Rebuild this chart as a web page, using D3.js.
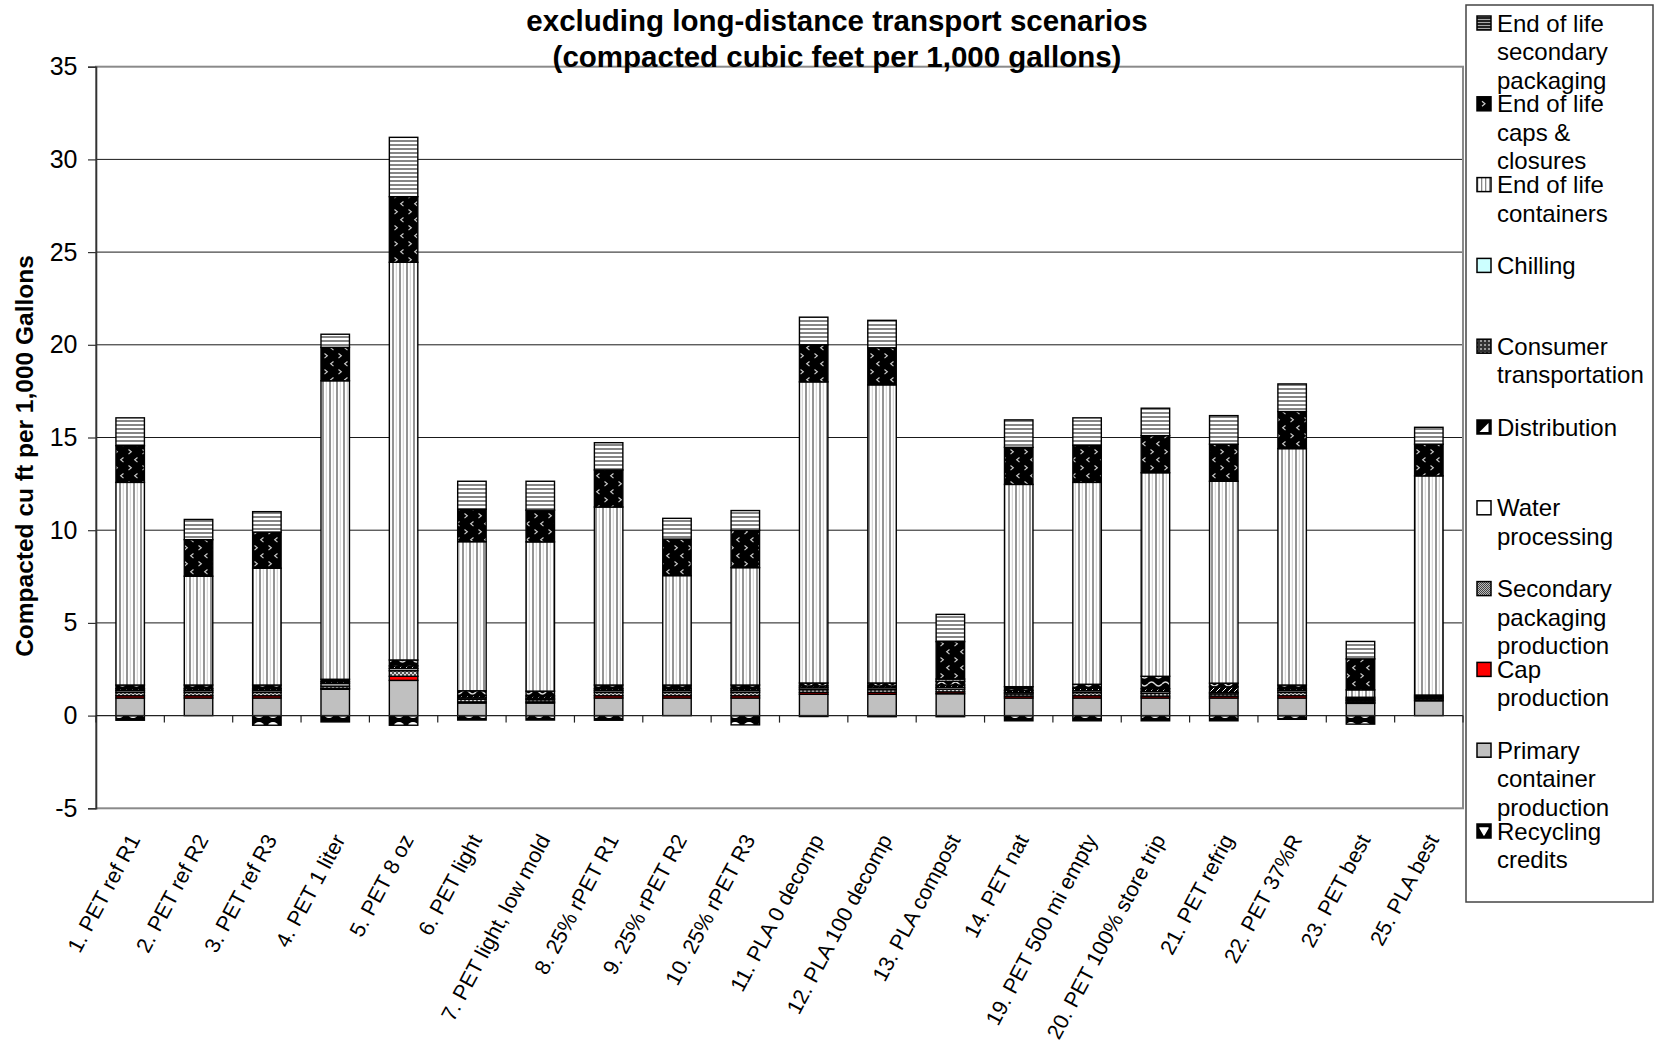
<!DOCTYPE html>
<html>
<head>
<meta charset="utf-8">
<script src="https://cdn.jsdelivr.net/npm/d3@7"></script>
<style>
  html, body { margin: 0; padding: 0; background: #fff; }
  svg text { font-family: "Liberation Sans", Arial, Helvetica, sans-serif; fill: #000; }
</style>
</head>
<body>
<svg id="chart" width="1659" height="1047"></svg>
<script>
// Scenario names along the category axis
const categories = [
  "1. PET ref R1", "2. PET ref R2", "3. PET ref R3", "4. PET 1 liter", "5. PET 8 oz",
  "6. PET light", "7. PET light, low mold", "8. 25% rPET R1", "9. 25% rPET R2", "10. 25% rPET R3",
  "11. PLA 0 decomp", "12. PLA 100 decomp", "13. PLA compost", "14. PET nat", "19. PET 500 mi empty",
  "20. PET 100% store trip", "21. PET refrig", "22. PET 37%R", "23. PET best", "25. PLA best"
];

// Solid waste by life-cycle stage (compacted cu ft per 1,000 gallons)
const recyclingCredits   = [-0.25, 0, -0.52, -0.34, -0.52, -0.24, -0.24, -0.25, 0, -0.50, -0.05, -0.06, -0.06, -0.28, -0.28, -0.28, -0.28, -0.20, -0.46, 0];
const primaryContainer   = [0.95, 0.95, 0.95, 1.42, 1.90, 0.68, 0.68, 0.95, 0.95, 0.95, 1.15, 1.15, 1.18, 0.95, 0.95, 0.95, 0.95, 0.95, 0.66, 0.80];
const capProduction      = [0.12, 0.12, 0.12, 0.05, 0.22, 0.06, 0.06, 0.12, 0.12, 0.12, 0.10, 0.10, 0.10, 0.10, 0.12, 0.10, 0.10, 0.12, 0.05, 0.05];
const secondaryPackaging = [0.18, 0.18, 0.18, 0.12, 0.30, 0.14, 0.12, 0.18, 0.18, 0.18, 0.15, 0.15, 0.15, 0.12, 0.17, 0.15, 0.12, 0.18, 0.08, 0.08];
const waterProcessing    = [0.10, 0.10, 0.10, 0.14, 0.12, 0.08, 0.08, 0.10, 0.10, 0.10, 0.10, 0.10, 0.10, 0.08, 0.10, 0.10, 0.08, 0.10, 0.05, 0.05];
const distribution       = [0.10, 0.10, 0.10, 0.10, 0.14, 0.12, 0.12, 0.10, 0.10, 0.10, 0.10, 0.10, 0.12, 0.11, 0.13, 0.15, 0.30, 0.10, 0.07, 0.06];
const consumerTransport  = [0.20, 0.20, 0.20, 0.13, 0.32, 0.26, 0.26, 0.20, 0.20, 0.20, 0.16, 0.16, 0.20, 0.20, 0.22, 0.67, 0.20, 0.20, 0.08, 0.07];
const chilling           = [0, 0, 0, 0, 0, 0, 0, 0, 0, 0, 0, 0, 0, 0, 0, 0, 0, 0, 0, 0];
const eolContainers      = [10.93, 5.87, 6.30, 16.10, 21.45, 8.04, 8.05, 9.60, 5.90, 6.33, 16.24, 16.08, 0.12, 10.91, 10.89, 10.98, 10.89, 12.75, 0.40, 11.82];
const eolCapsClosures    = [1.98, 1.97, 1.95, 1.80, 3.54, 1.75, 1.71, 2.00, 1.97, 2.01, 2.00, 2.00, 2.02, 2.00, 2.00, 2.00, 2.00, 2.00, 1.67, 1.71];
const eolSecondary       = [1.50, 1.09, 1.10, 0.71, 3.20, 1.51, 1.56, 1.47, 1.12, 1.07, 1.49, 1.48, 1.47, 1.48, 1.48, 1.48, 1.54, 1.49, 0.94, 0.91];

// Stacking order, bottom to top
const seriesKeys = ["recycling", "primary", "cap", "secPack", "water", "distribution",
                    "consumer", "chilling", "eolContainers", "eolCaps", "eolSecondary"];
const seriesValues = [recyclingCredits, primaryContainer, capProduction, secondaryPackaging,
                      waterProcessing, distribution, consumerTransport, chilling,
                      eolContainers, eolCapsClosures, eolSecondary];

// Legend labels, already broken into lines (listed top to bottom)
const legendKeys = ["eolSecondary", "eolCaps", "eolContainers", "chilling", "consumer",
                    "distribution", "water", "secPack", "cap", "primary", "recycling"];
const legendLines = [
  ["End of life", "secondary", "packaging"],
  ["End of life", "caps &", "closures"],
  ["End of life", "containers"],
  ["Chilling"],
  ["Consumer", "transportation"],
  ["Distribution"],
  ["Water", "processing"],
  ["Secondary", "packaging", "production"],
  ["Cap", "production"],
  ["Primary", "container", "production"],
  ["Recycling", "credits"]
];

const yTicks = [-5, 0, 5, 10, 15, 20, 25, 30, 35];
const titleLines = ["excluding long-distance transport scenarios", "(compacted cubic feet per 1,000 gallons)"];
const yAxisTitle = "Compacted cu ft per 1,000 Gallons";

// ---- layout ----
const plot = { left: 96, right: 1463, top: 66.7, bottom: 808.3 };

const svg = d3.select("#chart");
const defs = svg.append("defs");

function makePattern(id, w, h, draw) {
  const p = defs.append("pattern").attr("id", id)
    .attr("patternUnits", "userSpaceOnUse").attr("width", w).attr("height", h);
  draw(p);
}

// Bar fills
makePattern("pEolSec", 8, 4, p => {
  p.append("rect").attr("width", 8).attr("height", 4).attr("fill", "#fff");
  p.append("rect").attr("width", 8).attr("height", 2).attr("fill", "#858585");
});
makePattern("pEolCaps", 14, 16, p => {
  p.append("rect").attr("width", 14).attr("height", 16).attr("fill", "#000");
  p.append("path").attr("d", "M2.5,1.5 l2.8,2.3 l-2.8,2.3").attr("fill", "none").attr("stroke", "#c8c8c8").attr("stroke-width", 1.2);
  p.append("path").attr("d", "M11.5,9.5 l-2.8,2.3 l2.8,2.3").attr("fill", "none").attr("stroke", "#c8c8c8").attr("stroke-width", 1.2);
});
makePattern("pEolCont", 7, 10, p => {
  p.append("rect").attr("width", 7).attr("height", 10).attr("fill", "#fff");
  p.append("rect").attr("x", 0).attr("width", 2).attr("height", 10).attr("fill", "#939393");
  p.append("rect").attr("x", 3.8).attr("width", 1).attr("height", 10).attr("fill", "#cfcfcf");
});
makePattern("pConsumer", 14, 8, p => {
  p.append("rect").attr("width", 14).attr("height", 8).attr("fill", "#000");
  p.append("path").attr("d", "M0,4 q3.5,-4 7,0 t7,0").attr("fill", "none").attr("stroke", "#d8d8d8").attr("stroke-width", 1.3);
});
makePattern("pDistribution", 6, 6, p => {
  p.append("rect").attr("width", 6).attr("height", 6).attr("fill", "#000");
  p.append("path").attr("d", "M0,6 L6,0").attr("stroke", "#fff").attr("stroke-width", 1);
});
makePattern("pSecPack", 4, 4, p => {
  p.append("rect").attr("width", 4).attr("height", 4).attr("fill", "#d8d8d8");
  p.append("rect").attr("width", 2).attr("height", 2).attr("fill", "#555");
  p.append("rect").attr("x", 2).attr("y", 2).attr("width", 2).attr("height", 2).attr("fill", "#555");
});
makePattern("pRecycle", 14, 12, p => {
  p.append("rect").attr("width", 14).attr("height", 12).attr("fill", "#000");
  p.append("ellipse").attr("cx", 7).attr("cy", 6).attr("rx", 5).attr("ry", 4).attr("fill", "#fff");
});

// Legend-key fills (drawn at swatch scale)
makePattern("lgEolSec", 4, 3, p => {
  p.append("rect").attr("width", 4).attr("height", 3).attr("fill", "#222");
  p.append("rect").attr("y", 1).attr("width", 4).attr("height", 1).attr("fill", "#aaa");
});
makePattern("lgEolCont", 4, 4, p => {
  p.append("rect").attr("width", 4).attr("height", 4).attr("fill", "#fff");
  p.append("rect").attr("x", 1).attr("width", 1.3).attr("height", 4).attr("fill", "#888");
});
makePattern("lgConsumer", 4, 4, p => {
  p.append("rect").attr("width", 4).attr("height", 4).attr("fill", "#333");
  p.append("rect").attr("width", 2).attr("height", 2).attr("fill", "#999");
});
makePattern("lgSecPack", 2, 2, p => {
  p.append("rect").attr("width", 2).attr("height", 2).attr("fill", "#bbb");
  p.append("rect").attr("width", 1).attr("height", 1).attr("fill", "#444");
  p.append("rect").attr("x", 1).attr("y", 1).attr("width", 1).attr("height", 1).attr("fill", "#444");
});

const barFill = {
  recycling: "url(#pRecycle)", primary: "#c0c0c0", cap: "#ff0000", secPack: "url(#pSecPack)",
  water: "#ffffff", distribution: "url(#pDistribution)", consumer: "url(#pConsumer)",
  chilling: "#ccffff", eolContainers: "url(#pEolCont)", eolCaps: "url(#pEolCaps)",
  eolSecondary: "url(#pEolSec)"
};
const legendFill = Object.assign({}, barFill, {
  eolSecondary: "url(#lgEolSec)", eolCaps: "#000", eolContainers: "url(#lgEolCont)",
  consumer: "url(#lgConsumer)", distribution: "#000", secPack: "url(#lgSecPack)", recycling: "#000"
});

// ---- scales ----
const x = d3.scaleBand().domain(categories)
  .range([plot.left, plot.right]).paddingInner(1.4 / 2.4).paddingOuter(0.7 / 2.4);
const y = d3.scaleLinear().domain([-5, 35]).range([plot.bottom, plot.top]);

// ---- data table & stack ----
const rows = categories.map((c, i) => {
  const r = { category: c };
  seriesKeys.forEach((k, j) => { r[k] = seriesValues[j][i]; });
  return r;
});
const layers = d3.stack().keys(seriesKeys).offset(d3.stackOffsetDiverging)(rows);

// ---- gridlines ----
svg.append("g").selectAll("line")
  .data(yTicks.filter(v => v > -5 && v < 35 && v !== 0))
  .join("line")
  .attr("x1", plot.left).attr("x2", plot.right)
  .attr("y1", d => y(d)).attr("y2", d => y(d))
  .attr("stroke", "#1a1a1a").attr("stroke-width", 1);

// plot-area frame
svg.append("rect")
  .attr("x", plot.left).attr("y", plot.top)
  .attr("width", plot.right - plot.left).attr("height", plot.bottom - plot.top)
  .attr("fill", "none").attr("stroke", "#8a8a8a").attr("stroke-width", 2);

// ---- bars ----
const barG = svg.append("g");
layers.forEach(layer => {
  barG.append("g").selectAll("rect")
    .data(layer.filter(d => d[1] !== d[0]))
    .join("rect")
    .attr("x", d => x(d.data.category))
    .attr("width", x.bandwidth())
    .attr("y", d => y(Math.max(d[0], d[1])))
    .attr("height", d => Math.abs(y(d[0]) - y(d[1])))
    .attr("fill", barFill[layer.key])
    .attr("stroke", "#000").attr("stroke-width", 1.4);
});

// ---- y axis ----
const yAxis = d3.axisLeft(y).tickValues(yTicks).tickSize(8).tickPadding(10.5).tickFormat(d => String(d));
const yAxisG = svg.append("g").attr("transform", `translate(${plot.left},0)`).call(yAxis);
yAxisG.select(".domain").attr("stroke", "#333").attr("stroke-width", 1.6);
yAxisG.selectAll(".tick line").attr("stroke", "#333").attr("stroke-width", 1.2);
yAxisG.selectAll(".tick text").style("font-size", "25px").attr("font-family", null);

// ---- category axis at zero ----
const zeroY = y(0);
svg.append("line")
  .attr("x1", plot.left).attr("x2", plot.right)
  .attr("y1", zeroY).attr("y2", zeroY)
  .attr("stroke", "#222").attr("stroke-width", 1.3);
const boundaries = categories.map(c => x(c) - x.step() * x.paddingInner() / 2).concat([plot.right]);
svg.append("g").selectAll("line").data(boundaries).join("line")
  .attr("x1", d => d).attr("x2", d => d)
  .attr("y1", zeroY).attr("y2", zeroY + 7)
  .attr("stroke", "#222").attr("stroke-width", 1.2);

// category labels, rotated
svg.append("g").selectAll("text").data(categories).join("text")
  .attr("transform", d => `translate(${x(d) + x.bandwidth() / 2 + 4},${836}) rotate(-62)`)
  .attr("text-anchor", "end").attr("dy", "0.35em")
  .style("font-size", "21.5px")
  .text(d => d);

// ---- axis title ----
svg.append("text")
  .attr("transform", `translate(33,456) rotate(-90)`)
  .attr("text-anchor", "middle")
  .style("font-size", "24.5px").style("font-weight", "bold")
  .text(yAxisTitle);

// ---- chart title ----
svg.append("g").selectAll("text").data(titleLines).join("text")
  .attr("x", 837).attr("y", (d, i) => 31 + i * 36)
  .attr("text-anchor", "middle")
  .style("font-size", "29.5px").style("font-weight", "bold")
  .text(d => d);

// ---- legend ----
const legend = { x: 1466, y: 5, w: 187, h: 897, itemStep: 80.8, firstY: 23, lineH: 28.5 };
const lg = svg.append("g");
lg.append("rect").attr("x", legend.x).attr("y", legend.y).attr("width", legend.w).attr("height", legend.h)
  .attr("fill", "#fff").attr("stroke", "#444").attr("stroke-width", 1.5);

legendKeys.forEach((k, i) => {
  const cy = legend.firstY + i * legend.itemStep;
  const sx = 1477, sz = 14;
  lg.append("rect").attr("x", sx).attr("y", cy - sz / 2).attr("width", sz).attr("height", sz)
    .attr("fill", legendFill[k]).attr("stroke", "#000").attr("stroke-width", 1.5);
  if (k === "eolCaps") {
    lg.append("path").attr("d", `M${sx + 5},${cy - 2.5} l3,2.5 l-3,2.5`)
      .attr("fill", "none").attr("stroke", "#ccc").attr("stroke-width", 1.2);
  }
  if (k === "distribution") {
    lg.append("path").attr("d", `M${sx + 2.5},${cy + 5} L${sx + 11.5},${cy - 4} L${sx + 11.5},${cy + 5} Z`)
      .attr("fill", "#fff");
  }
  if (k === "recycling") {
    lg.append("path").attr("d", `M${sx + 3},${cy - 3} L${sx + 11},${cy - 3} L${sx + 7},${cy + 4} Z`)
      .attr("fill", "#fff").attr("stroke", "#fff").attr("stroke-linejoin", "round").attr("stroke-width", 1.5);
  }
  lg.append("g").selectAll("text").data(legendLines[i]).join("text")
    .attr("x", 1497).attr("y", (d, j) => cy + 8.5 + j * legend.lineH)
    .style("font-size", "24px")
    .text(d => d);
});
</script>
</body>
</html>
